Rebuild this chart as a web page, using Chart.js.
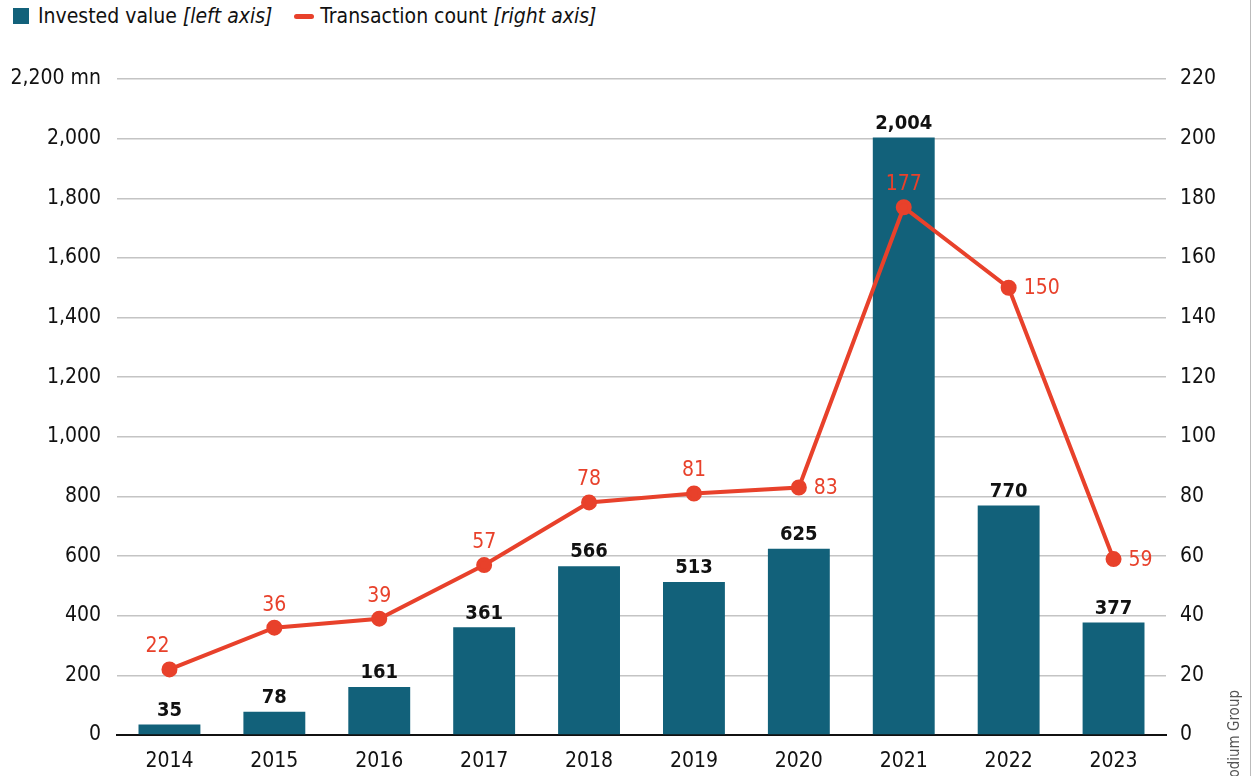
<!DOCTYPE html>
<html>
<head>
<meta charset="utf-8">
<script src="https://cdn.jsdelivr.net/npm/chart.js@4"></script>
<style>
  html, body { margin: 0; padding: 0; background: #fff; }
  #wrap { position: relative; width: 1256px; height: 776px; overflow: hidden; }
  #legend { position: absolute; left: 13px; top: 4px; font: 21px "DejaVu Sans Condensed", "DejaVu Sans", sans-serif; color: #111; display: flex; align-items: center; }
  .box { display: inline-block; width: 16px; height: 16px; background: #12617a; margin-right: 9px; }
  .ln { display: inline-block; width: 20px; height: 5px; border-radius: 3px; background: #e8412b; margin: 0 6px 0 22px; }
  #src { position: absolute; left: 1250px; top: 0; width: 1px; height: 776px; background: #bbb; }
  canvas { position: absolute; left: 0; top: 0; }
</style>
</head>
<body>
<div id="wrap">
  <div id="legend"><span class="box"></span>Invested value&nbsp;<i>[left axis]</i><span class="ln"></span>Transaction count&nbsp;<i>[right axis]</i></div>
  <div id="src"></div>
  <canvas id="chart" width="1256" height="776"></canvas>
</div>
<script>
const years = ['2014', '2015', '2016', '2017', '2018', '2019', '2020', '2021', '2022', '2023'];
const investedValue = [35, 78, 161, 361, 566, 513, 625, 2004, 770, 377];
const transactionCount = [22, 36, 39, 57, 78, 81, 83, 177, 150, 59];
const countLabelRight = [false, false, false, false, false, false, true, false, true, true];

const BAR_COLOR = '#12617a';
const LINE_COLOR = '#e8412b';
const FONT = '"DejaVu Sans Condensed", "DejaVu Sans", sans-serif';

const valueLabels = {
    id: 'valueLabels',
    afterDatasetsDraw(chart) {
        const ctx = chart.ctx;
        const lineMeta = chart.getDatasetMeta(0);
        const barMeta = chart.getDatasetMeta(1);
        ctx.save();
        ctx.font = 'bold 20px ' + FONT;
        ctx.textBaseline = 'bottom';
        ctx.textAlign = 'center';
        ctx.fillStyle = '#111';
        barMeta.data.forEach((bar, i) => {
            ctx.fillText(investedValue[i].toLocaleString('en-US'), bar.x, bar.y - 4);
        });
        ctx.font = '21px ' + FONT;
        ctx.fillStyle = LINE_COLOR;
        lineMeta.data.forEach((pt, i) => {
            if (countLabelRight[i]) {
                ctx.textAlign = 'left';
                ctx.textBaseline = 'middle';
                ctx.fillText(transactionCount[i], pt.x + 15, pt.y + 1);
            } else {
                ctx.textAlign = 'center';
                ctx.textBaseline = 'bottom';
                ctx.fillText(transactionCount[i], pt.x - (i === 0 ? 12 : 0), pt.y - 12);
            }
        });
        // source note, rotated
        ctx.fillStyle = '#555';
        ctx.font = '15px ' + FONT;
        ctx.translate(1235, 690);
        ctx.rotate(-Math.PI / 2);
        ctx.textAlign = 'right';
        ctx.textBaseline = 'middle';
        ctx.fillText('Source: Rhodium Group', 0, 0);
        ctx.restore();
    }
};

new Chart(document.getElementById('chart'), {
    data: {
        labels: years,
        datasets: [
            {
                type: 'line',
                label: 'Transaction count',
                data: transactionCount,
                yAxisID: 'y1',
                borderColor: LINE_COLOR,
                backgroundColor: LINE_COLOR,
                borderWidth: 4,
                pointRadius: 6,
                pointHoverRadius: 6,
                tension: 0,
                order: 0
            },
            {
                type: 'bar',
                label: 'Invested value',
                data: investedValue,
                yAxisID: 'y',
                backgroundColor: BAR_COLOR,
                barPercentage: 0.59,
                categoryPercentage: 1,
                order: 1
            }
        ]
    },
    options: {
        responsive: false,
        animation: false,
        layout: { padding: { top: 79, left: 0, right: 0, bottom: 0 } },
        plugins: { legend: { display: false }, tooltip: { enabled: false } },
        scales: {
            x: {
                grid: { display: false },
                border: { color: '#111', width: 2 },
                ticks: { color: '#111', font: { family: FONT, size: 21 }, padding: 6 },
                afterFit: s => { s.height = 41; }
            },
            y: {
                position: 'left',
                min: 0, max: 2200,
                ticks: {
                    stepSize: 200,
                    color: '#111',
                    font: { family: FONT, size: 21 },
                    padding: 16,
                    callback: v => v === 2200 ? '2,200 mn' : v.toLocaleString('en-US')
                },
                grid: { color: '#c4c4c4', lineWidth: 1.5, drawTicks: false },
                border: { display: false },
                afterFit: s => { s.width = 117; }
            },
            y1: {
                position: 'right',
                min: 0, max: 220,
                ticks: { stepSize: 20, color: '#111', font: { family: FONT, size: 21 }, padding: 14 },
                grid: { display: false, drawTicks: false },
                border: { display: false },
                afterFit: s => { s.width = 90; }
            }
        }
    },
    plugins: [valueLabels]
});
</script>
</body>
</html>
